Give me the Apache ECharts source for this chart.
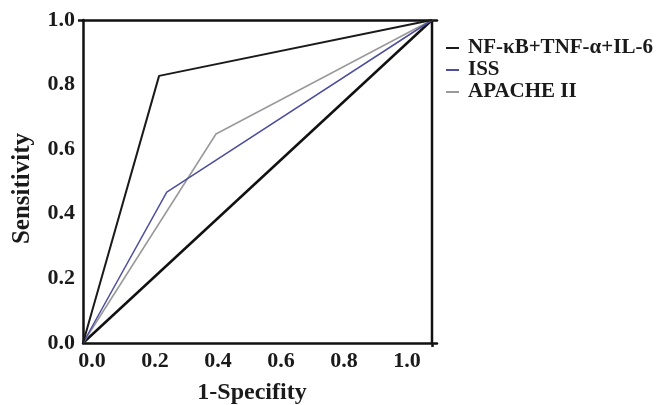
<!DOCTYPE html>
<html>
<head>
<meta charset="utf-8">
<script src="https://cdn.jsdelivr.net/npm/echarts@6/dist/echarts.min.js"></script>
<style>html,body{margin:0;padding:0;background:#fff}#c{width:662px;height:405px}</style>
</head>
<body>
<div id="c"></div>
<script>
// ROC curves: [1-Specificity, Sensitivity]
var nfkb = [[0, 0], [0.218, 0.827], [1, 1]];
var iss = [[0, 0], [0.24, 0.467], [1, 1]];
var apache = [[0, 0], [0.381, 0.647], [1, 1]];
var reference = [[0, 0], [1, 1]];
var rightEdge = [[1, 0], [1, 1]];
var tickValues = [0, 0.2, 0.4, 0.6, 0.8, 1.0];
var seriesNames = ['NF-\u03baB+TNF-\u03b1+IL-6', 'ISS', 'APACHE II'];

var FONT = '"Liberation Serif", "DejaVu Serif", serif';
var chart = echarts.init(document.getElementById('c'), null, {renderer: 'canvas'});
var lbl = {fontFamily: FONT, fontWeight: 'bold', fontSize: 22, color: '#1a1a1a'};

chart.setOption({
  animation: false,
  grid: {left: 83, right: 225, top: 20, bottom: 62, containLabel: false, outerBoundsMode: 'none'},
  legend: {
    orient: 'vertical', left: 441, top: 32, itemGap: 0,
    icon: 'rect', itemWidth: 13, itemHeight: 2,
    data: seriesNames,
    textStyle: {fontFamily: FONT, fontWeight: 'bold', fontSize: 21, lineHeight: 22, color: '#1a1a1a', padding: [0, 0, 0, 4]}
  },
  xAxis: [
    {type: 'value', min: 0, max: 354 / 349, position: 'bottom',
     axisLine: {show: true, lineStyle: {color: '#111', width: 2.5}},
     axisTick: {show: true, customValues: [1], length: 4, lineStyle: {color: '#111', width: 2.5}},
     axisLabel: {show: false}, splitLine: {show: false}},
    {type: 'value', min: -9 / 315, max: -9 / 315 + 354 / 315, position: 'bottom',
     axisLine: {show: false}, axisTick: {show: false}, splitLine: {show: false},
     axisLabel: Object.assign({customValues: tickValues, margin: 7,
       formatter: function (v) { return v.toFixed(1); }}, lbl),
     name: '1-Specifity', nameLocation: 'middle', nameGap: 38,
     nameTextStyle: {fontFamily: FONT, fontWeight: 'bold', fontSize: 24, color: '#1a1a1a', padding: [0, 0, 0, -16]}},
    {type: 'value', min: 0, max: 354 / 349, position: 'top',
     axisLine: {show: true, lineStyle: {color: '#111', width: 2.5}},
     axisTick: {show: false}, axisLabel: {show: false}, splitLine: {show: false}}
  ],
  yAxis: [
    {type: 'value', min: 0, max: 1, interval: 0.2,
     axisLine: {show: true, lineStyle: {color: '#111', width: 2.5}},
     axisTick: {show: true, customValues: [1], length: 5, lineStyle: {color: '#111', width: 2.5}},
     splitLine: {show: false},
     axisLabel: Object.assign({margin: 8, formatter: function (v) { return v.toFixed(1); }}, lbl),
     name: 'Sensitivity', nameLocation: 'middle', nameGap: 48,
     nameTextStyle: {fontFamily: FONT, fontWeight: 'bold', fontSize: 25, color: '#1a1a1a', padding: [0, 14, 0, 0]}}
  ],
  series: [
    {name: seriesNames[0], type: 'line', data: nfkb, symbol: 'none', z: 5,
     lineStyle: {color: '#1a1a1a', width: 2}, itemStyle: {color: '#1a1a1a'}},
    {name: seriesNames[1], type: 'line', data: iss, symbol: 'none', z: 4,
     lineStyle: {color: '#4e4f9c', width: 1.5}, itemStyle: {color: '#4e4f9c'}},
    {name: seriesNames[2], type: 'line', data: apache, symbol: 'none', z: 3,
     lineStyle: {color: '#9a9a9a', width: 1.6}, itemStyle: {color: '#9a9a9a'}},
    {name: 'ref', type: 'line', data: reference, symbol: 'none', z: 2,
     lineStyle: {color: '#111', width: 2.5}},
    {name: 'edge', type: 'line', data: rightEdge, symbol: 'none', z: 2,
     lineStyle: {color: '#111', width: 2.5}}
  ]
});
</script>
</body>
</html>
